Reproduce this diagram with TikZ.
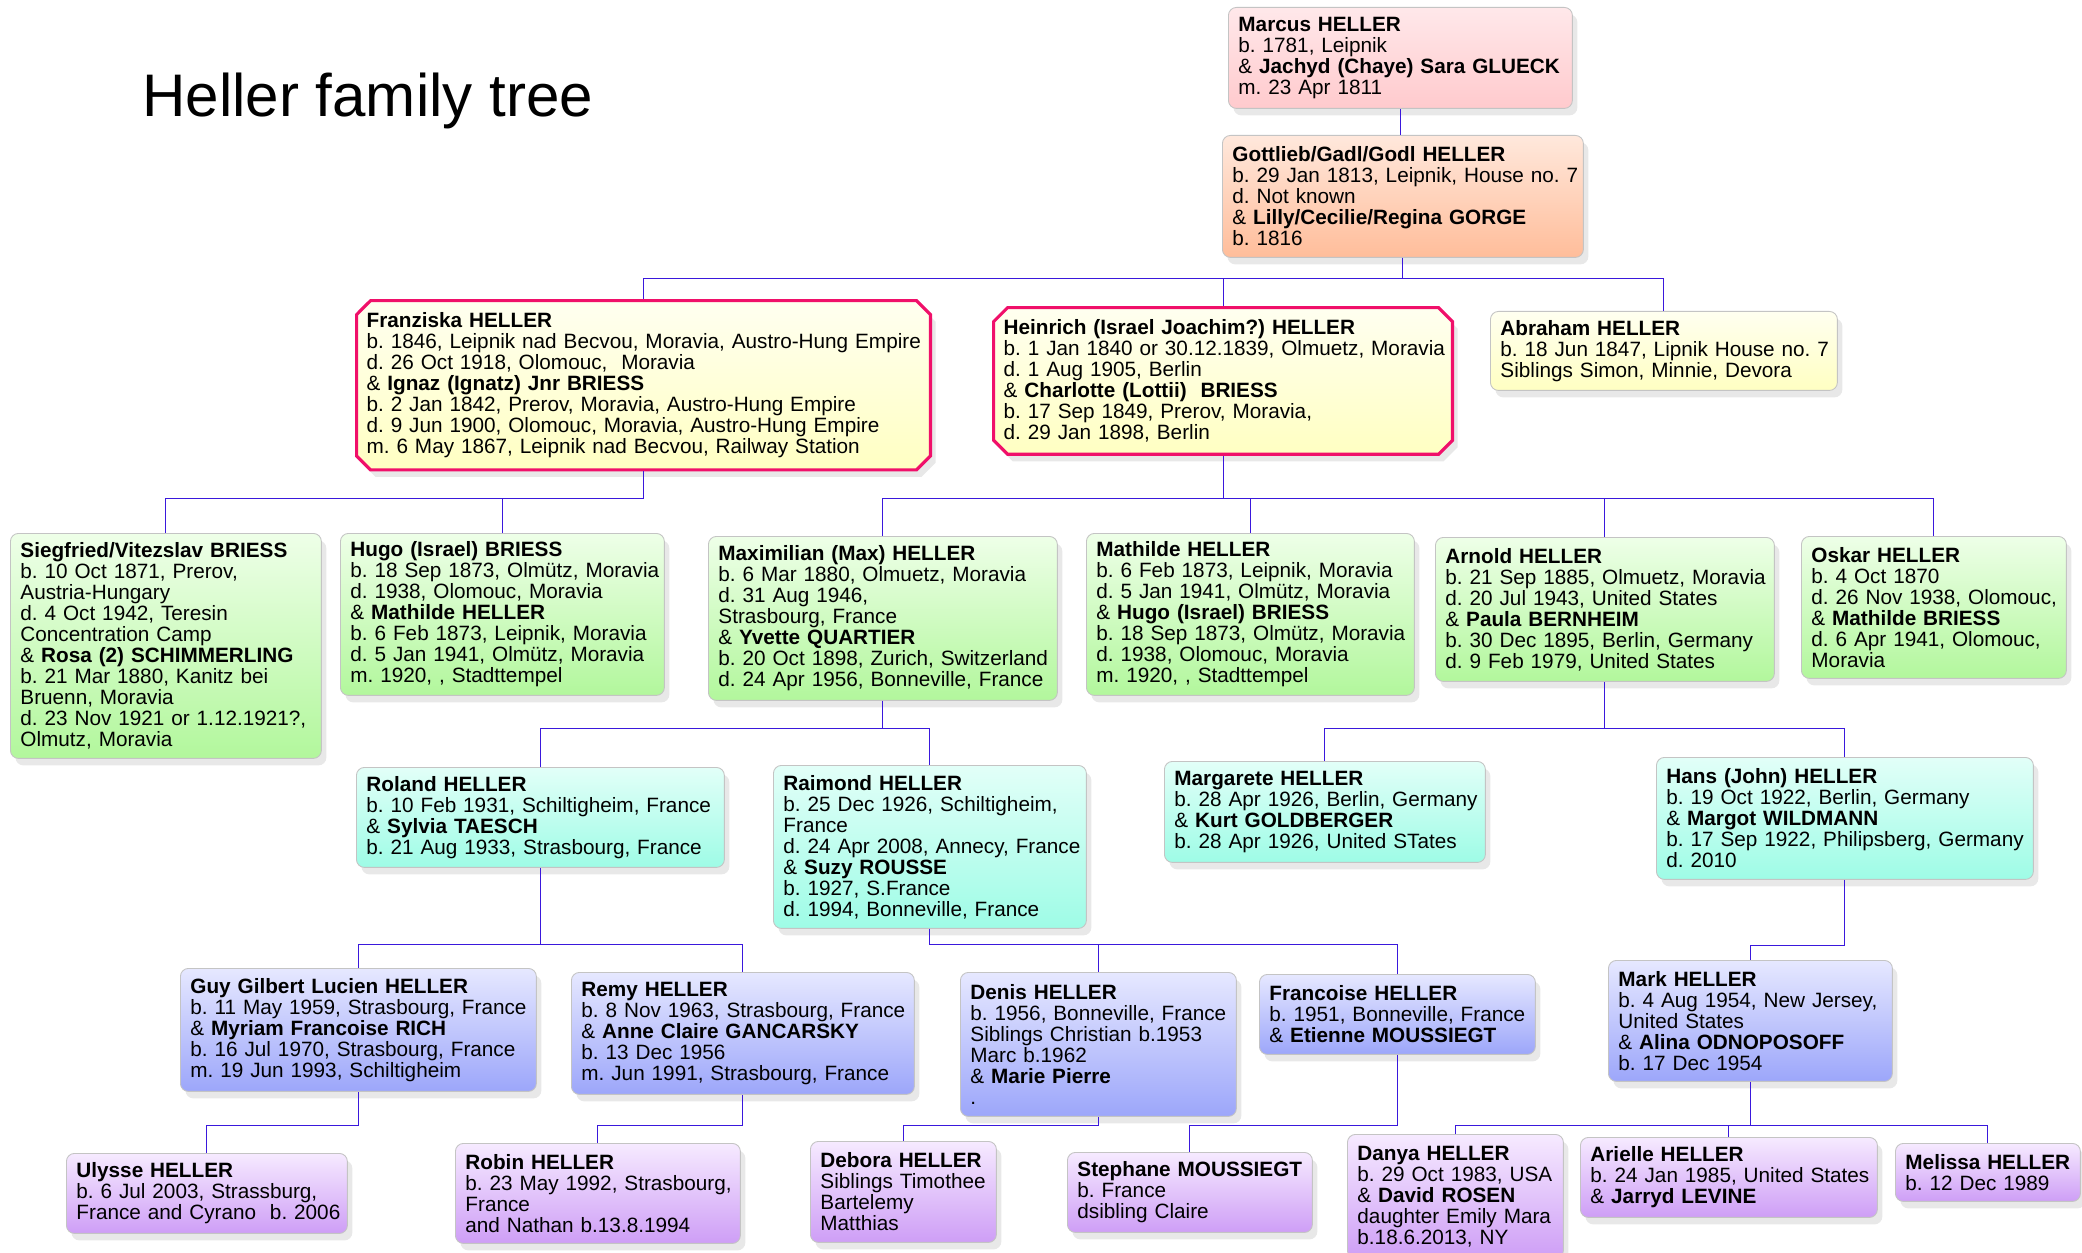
\documentclass[tikz,border=0pt]{standalone}
\usepackage{fontspec}
\setmainfont{Liberation Sans}
\usetikzlibrary{shapes.misc,shadows}

\definecolor{pinktop}{HTML}{FFE8EA}
\definecolor{pinkbot}{HTML}{FFCACD}
\definecolor{peachtop}{HTML}{FFE8DC}
\definecolor{peachbot}{HTML}{FFBD9A}
\definecolor{yellowtop}{HTML}{FFFFF0}
\definecolor{yellowbot}{HTML}{FFFFC2}
\definecolor{greentop}{HTML}{EEFFE8}
\definecolor{greenbot}{HTML}{B2F79C}
\definecolor{cyantop}{HTML}{E2FFF8}
\definecolor{cyanbot}{HTML}{9EFCE6}
\definecolor{bluetop}{HTML}{E6E8FF}
\definecolor{bluebot}{HTML}{9CA6FA}
\definecolor{purpletop}{HTML}{F6EAFF}
\definecolor{purplebot}{HTML}{CE9EF6}
\definecolor{boxline}{HTML}{C4C4C4}
\definecolor{lineage}{HTML}{F0106A}
\definecolor{linkblue}{HTML}{3A18DC}

\newcommand{\boxshift}{0pt}

\begin{document}
\begin{tikzpicture}[
                x=0.02cm, y=-0.02cm,% one unit = one pixel of the layout, y going down
                every node/.style={font=\fontsize{11.8}{11.95}\selectfont\frenchspacing},
                box/.style n args={3}{anchor=north west, inner xsep=0.2cm, inner ysep=0.1cm,
                    minimum width=\fpeval{(#1)*0.02}cm, minimum height=\fpeval{(#2)*0.02}cm,
                    text width=\fpeval{(#1)*0.02-0.4}cm, align=left,
                    execute at begin node={\rightskip=0pt plus 1fil minus 5cm\leftskip=\boxshift\relax},
                    top color=#3top, bottom color=#3bot,
                    drop shadow={shadow xshift=0.1cm, shadow yshift=-0.14cm, opacity=0.18}},
                person/.style n args={3}{box={#1}{#2}{#3}, rounded corners=0.16cm, draw=boxline, line width=0.5pt},
                direct/.style n args={3}{box={#1-17}{#2-17}{#3}, chamfered rectangle,
                    chamfered rectangle xsep=0.14cm, chamfered rectangle ysep=0.14cm,
                    xshift=0.17cm, yshift=-0.17cm,
                    draw=lineage, line width=1.8pt, /utils/exec={\def\boxshift{-0.14cm}}},
                link/.style={draw=linkblue, line width=0.55pt}
            ]

                \fill[white] (0,0) rectangle (2082,1253);
                \useasboundingbox (0,0) rectangle (2082,1253);

                \node[anchor=base west, inner sep=0pt, font=\fontsize{34.2}{40}\selectfont]
                    (title) at (142,117) {Heller family tree};

                % generations 1 and 2
                \node[person={344}{101}{pink}] (marcus) at (1228,7)
                    {\textbf{Marcus HELLER} \\ b. 1781, Leipnik \\ \& \textbf{Jachyd (Chaye) Sara GLUECK} \\ m. 23 Apr 1811};
                \node[person={361}{122}{peach}] (gottlieb) at (1222,135)
                    {\textbf{Gottlieb/Gadl/Godl HELLER} \\ b. 29 Jan 1813, Leipnik, House no. 7 \\ d. Not known \\
                     \& \textbf{Lilly/Cecilie/Regina GORGE} \\ b. 1816};

                % generation 3
                \node[direct={577}{165}{yellow}] (franz) at (354,298)
                    {\textbf{Franziska HELLER} \\ b. 1846, Leipnik nad Becvou, Moravia, Austro-Hung Empire \\
                     d. 26 Oct 1918, Olomouc,\ \ Moravia \\ \& \textbf{Ignaz (Ignatz) Jnr BRIESS} \\
                     b. 2 Jan 1842, Prerov, Moravia, Austro-Hung Empire \\ d. 9 Jun 1900, Olomouc, Moravia, Austro-Hung Empire \\
                     m. 6 May 1867, Leipnik nad Becvou, Railway Station};
                \node[direct={462}{147}{yellow}] (heinrich) at (991,305)
                    {\textbf{Heinrich (Israel Joachim?) HELLER} \\ b. 1 Jan 1840 or 30.12.1839, Olmuetz, Moravia \\
                     d. 1 Aug 1905, Berlin \\ \& \textbf{Charlotte (Lottii)\ \ BRIESS} \\ b. 17 Sep 1849, Prerov, Moravia, \\
                     d. 29 Jan 1898, Berlin};
                \node[person={347}{79}{yellow}] (abraham) at (1490,311)
                    {\textbf{Abraham HELLER} \\ b. 18 Jun 1847, Lipnik House no. 7 \\ Siblings Simon, Minnie, Devora};

                % generation 4
                \node[person={311}{225}{green}] (sieg) at (10,533)
                    {\textbf{Siegfried/Vitezslav BRIESS} \\ b. 10 Oct 1871, Prerov, \\ Austria-Hungary \\ d. 4 Oct 1942, Teresin \\
                     Concentration Camp \\ \& \textbf{Rosa (2) SCHIMMERLING} \\ b. 21 Mar 1880, Kanitz bei \\ Bruenn, Moravia \\
                     d. 23 Nov 1921 or 1.12.1921?, \\ Olmutz, Moravia};
                \node[person={324}{162}{green}] (hugo) at (340,533)
                    {\textbf{Hugo (Israel) BRIESS} \\ b. 18 Sep 1873, Olmütz, Moravia \\ d. 1938, Olomouc, Moravia \\
                     \& \textbf{Mathilde HELLER} \\ b. 6 Feb 1873, Leipnik, Moravia \\ d. 5 Jan 1941, Olmütz, Moravia \\
                     m. 1920, , Stadttempel};
                \node[person={349}{164}{green}] (max) at (708,536)
                    {\textbf{Maximilian (Max) HELLER} \\ b. 6 Mar 1880, Olmuetz, Moravia \\ d. 31 Aug 1946, \\ Strasbourg, France \\
                     \& \textbf{Yvette QUARTIER} \\ b. 20 Oct 1898, Zurich, Switzerland \\ d. 24 Apr 1956, Bonneville, France};
                \node[person={328}{162}{green}] (mathilde) at (1086,533)
                    {\textbf{Mathilde HELLER} \\ b. 6 Feb 1873, Leipnik, Moravia \\ d. 5 Jan 1941, Olmütz, Moravia \\
                     \& \textbf{Hugo (Israel) BRIESS} \\ b. 18 Sep 1873, Olmütz, Moravia \\ d. 1938, Olomouc, Moravia \\
                     m. 1920, , Stadttempel};
                \node[person={339}{144}{green}] (arnold) at (1435,537)
                    {\textbf{Arnold HELLER} \\ b. 21 Sep 1885, Olmuetz, Moravia \\ d. 20 Jul 1943, United States \\
                     \& \textbf{Paula BERNHEIM} \\ b. 30 Dec 1895, Berlin, Germany \\ d. 9 Feb 1979, United States};
                \node[person={265}{142}{green}] (oskar) at (1801,536)
                    {\textbf{Oskar HELLER} \\ b. 4 Oct 1870 \\ d. 26 Nov 1938, Olomouc, \\ \& \textbf{Mathilde BRIESS} \\
                     d. 6 Apr 1941, Olomouc, \\ Moravia};

                % generation 5
                \node[person={368}{100}{cyan}] (roland) at (356,767)
                    {\textbf{Roland HELLER} \\ b. 10 Feb 1931, Schiltigheim, France \\ \& \textbf{Sylvia TAESCH} \\
                     b. 21 Aug 1933, Strasbourg, France};
                \node[person={313}{163}{cyan}] (raimond) at (773,765)
                    {\textbf{Raimond HELLER} \\ b. 25 Dec 1926, Schiltigheim, \\ France \\ d. 24 Apr 2008, Annecy, France \\
                     \& \textbf{Suzy ROUSSE} \\ b. 1927, S.France \\ d. 1994, Bonneville, France};
                \node[person={321}{101}{cyan}] (margarete) at (1164,761)
                    {\textbf{Margarete HELLER} \\ b. 28 Apr 1926, Berlin, Germany \\ \& \textbf{Kurt GOLDBERGER} \\
                     b. 28 Apr 1926, United STates};
                \node[person={377}{122}{cyan}] (hans) at (1656,757)
                    {\textbf{Hans (John) HELLER} \\ b. 19 Oct 1922, Berlin, Germany \\ \& \textbf{Margot WILDMANN} \\
                     b. 17 Sep 1922, Philipsberg, Germany \\ d. 2010};

                % generation 6
                \node[person={356}{123}{blue}] (guy) at (180,968)
                    {\textbf{Guy Gilbert Lucien HELLER} \\ b. 11 May 1959, Strasbourg, France \\ \& \textbf{Myriam Francoise RICH} \\
                     b. 16 Jul 1970, Strasbourg, France \\ m. 19 Jun 1993, Schiltigheim};
                \node[person={343}{122}{blue}] (remy) at (571,972)
                    {\textbf{Remy HELLER} \\ b. 8 Nov 1963, Strasbourg, France \\ \& \textbf{Anne Claire GANCARSKY} \\
                     b. 13 Dec 1956 \\ m. Jun 1991, Strasbourg, France};
                \node[person={276}{144}{blue}] (denis) at (960,972)
                    {\textbf{Denis HELLER} \\ b. 1956, Bonneville, France \\ Siblings Christian b.1953 \\ Marc b.1962 \\
                     \& \textbf{Marie Pierre} \\ .};
                \node[person={276}{80}{blue}] (francoise) at (1259,974)
                    {\textbf{Francoise HELLER} \\ b. 1951, Bonneville, France \\ \& \textbf{Etienne MOUSSIEGT}};
                \node[person={284}{121}{blue}] (mark) at (1608,960)
                    {\textbf{Mark HELLER} \\ b. 4 Aug 1954, New Jersey, \\ United States \\ \& \textbf{Alina ODNOPOSOFF} \\
                     b. 17 Dec 1954};

                % generation 7
                \node[person={281}{80}{purple}] (ulysse) at (66,1153)
                    {\textbf{Ulysse HELLER} \\ b. 6 Jul 2003, Strassburg, \\ France and Cyrano\ \ b. 2006};
                \node[person={285}{100}{purple}] (robin) at (455,1143)
                    {\textbf{Robin HELLER} \\ b. 23 May 1992, Strasbourg, \\ France \\ and Nathan b.13.8.1994};
                \node[person={186}{101}{purple}] (debora) at (810,1141)
                    {\textbf{Debora HELLER} \\ Siblings Timothee \\ Bartelemy \\ Matthias};
                \node[person={245}{80}{purple}] (stephane) at (1067,1152)
                    {\textbf{Stephane MOUSSIEGT} \\ b. France \\ dsibling Claire};
                \node[person={216}{124}{purple}] (danya) at (1347,1134)
                    {\textbf{Danya HELLER} \\ b. 29 Oct 1983, USA \\ \& \textbf{David ROSEN} \\ daughter Emily Mara \\
                     b.18.6.2013, NY};
                \node[person={297}{80}{purple}] (arielle) at (1580,1137)
                    {\textbf{Arielle HELLER} \\ b. 24 Jan 1985, United States \\ \& \textbf{Jarryd LEVINE}};
                \node[person={185}{58}{purple}] (melissa) at (1895,1143)
                    {\textbf{Melissa HELLER} \\ b. 12 Dec 1989};

                \draw[link] (marcus.south) -- (marcus.south |- gottlieb.north);
                \foreach \up/\kid/\bus in {gottlieb/franz/278, gottlieb/heinrich/278, gottlieb/abraham/278,
                        franz/sieg/498, franz/hugo/498,
                        heinrich/max/498, heinrich/mathilde/498, heinrich/arnold/498, heinrich/oskar/498,
                        max/roland/728, max/raimond/728, arnold/margarete/728, arnold/hans/728,
                        roland/guy/944, roland/remy/944, raimond/denis/944, raimond/francoise/944, hans/mark/945,
                        guy/ulysse/1125, remy/robin/1125, denis/debora/1125, francoise/stephane/1125,
                        mark/danya/1125, mark/arielle/1125, mark/melissa/1125}
                    \draw[link] (\up.south) -- (\up.south |- 0,\bus) -| (\kid.north);

            \end{tikzpicture}
\end{document}
